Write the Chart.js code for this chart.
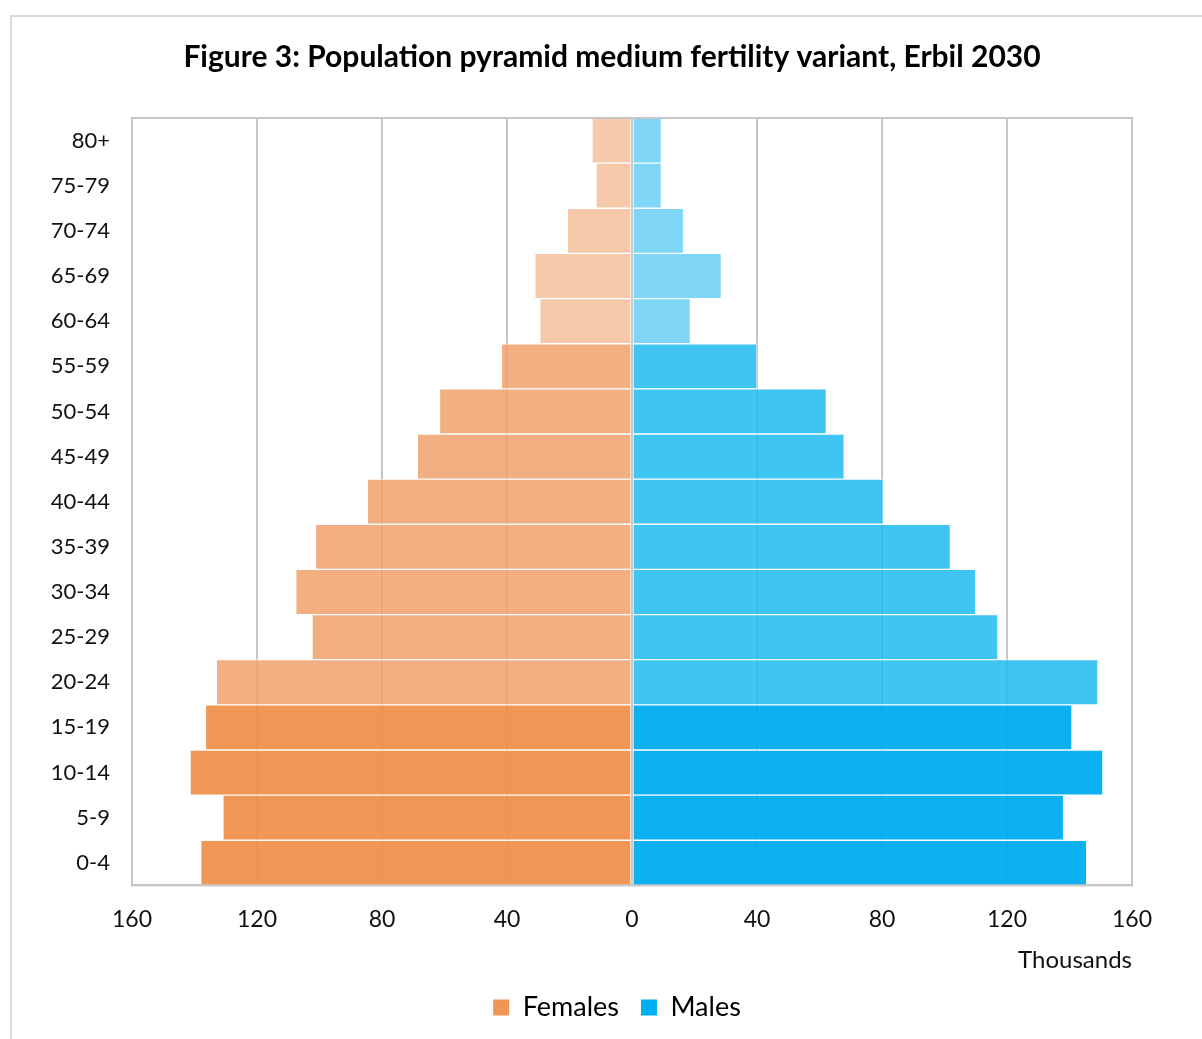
<!DOCTYPE html>
<html>
<head>
<meta charset="utf-8">
<script src="https://cdn.jsdelivr.net/npm/chart.js@4.4.1/dist/chart.umd.min.js"></script>
<style>
  body { margin: 0; background: #fff; overflow: hidden; }
  #frame { position: absolute; left: 10px; top: 15px; width: 1200px; height: 1040px; border: 2px solid #d9d9d9; }
  #chart { position: absolute; left: 0; top: 0; }
</style>
</head>
<body>
<div id="frame"></div>
<canvas id="chart" width="1202" height="1039"></canvas>
<script>
// data, top to bottom as drawn
const ageGroups = ["80+", "75-79", "70-74", "65-69", "60-64", "55-59", "50-54", "45-49",
  "40-44", "35-39", "30-34", "25-29", "20-24", "15-19", "10-14", "5-9", "0-4"];
const females = [12.8, 11.5, 20.7, 31.1, 29.5, 41.8, 61.6, 68.7,
  84.7, 101.3, 107.6, 102.4, 133.0, 136.5, 141.4, 130.9, 138.0];
const males = [9.4, 9.4, 16.5, 28.6, 18.7, 40.0, 62.2, 67.9,
  80.4, 101.9, 110.0, 117.1, 149.1, 140.8, 150.7, 138.1, 145.5];
const xTicks = [-160, -120, -80, -40, 0, 40, 80, 120, 160];
const chartTitle = "Figure 3: Population pyramid medium fertility variant, Erbil 2030";

// shade by age band: old, working age, young
function shade(i, light, mid, dark) {
  if (i <= 4) return light;
  if (i <= 12) return mid;
  return dark;
}
const femaleColors = ageGroups.map((a, i) =>
  shade(i, "rgba(244,191,155,0.85)", "rgba(240,162,108,0.85)", "rgba(239,145,76,0.95)"));
const maleColors = ageGroups.map((a, i) =>
  shade(i, "rgba(106,207,246,0.85)", "rgba(30,186,240,0.85)", "rgba(0,172,239,0.95)"));

const FONT = "Lato, 'Open Sans', sans-serif";
const GRID = "#c6c6c6";

// frame around the plot area, title, legend nudge (original is centred off-canvas-centre)
const plotFrame = {
  id: "plotFrame",
  afterLayout(chart) {
    chart.legend.left += 40;
    chart.legend.right += 40;
  },
  afterDatasetsDraw(chart) {
    const a = chart.chartArea;
    const ctx = chart.ctx;
    ctx.save();
    ctx.strokeStyle = GRID;
    ctx.lineWidth = 2;
    ctx.strokeRect(a.left, a.top, a.right - a.left, a.bottom - a.top);
    ctx.restore();
  },
  afterDraw(chart) {
    const ctx = chart.ctx;
    ctx.save();
    ctx.font = "bold 30px " + FONT;
    ctx.fillStyle = "#000";
    ctx.textAlign = "center";
    ctx.textBaseline = "middle";
    ctx.fillText(chartTitle, 612, 57);
    ctx.restore();
  }
};

new Chart(document.getElementById("chart"), {
  type: "bar",
  data: {
    labels: ageGroups,
    datasets: [
      {
        label: "Females",
        data: females.map(v => -v),
        backgroundColor: femaleColors,
        borderColor: "rgba(255,255,255,0.7)",
        borderWidth: 1,
        borderSkipped: false,
      },
      {
        label: "Males",
        data: males,
        backgroundColor: maleColors,
        borderColor: "rgba(255,255,255,0.7)",
        borderWidth: 1,
        borderSkipped: false,
      },
    ],
  },
  options: {
    indexAxis: "y",
    responsive: false,
    animation: false,
    barPercentage: 1,
    categoryPercentage: 1,
    layout: { padding: { left: 22, right: 70, top: 118, bottom: 8 } },
    scales: {
      x: {
        stacked: true,
        min: -160,
        max: 160,
        afterBuildTicks(scale) {
          scale.ticks = xTicks.map(v => ({ value: v }));
        },
        grid: { color: GRID, lineWidth: 2, drawTicks: false },
        border: { color: GRID, width: 2 },
        ticks: {
          color: "#111",
          font: { family: FONT, size: 23 },
          padding: 20,
          callback: v => Math.abs(v),
        },
        title: {
          display: true,
          text: "Thousands",
          align: "end",
          color: "#111",
          font: { family: FONT, size: 24, lineHeight: 1 },
          padding: { top: -5, bottom: 0 },
        },
      },
      y: {
        stacked: true,
        afterFit(scale) { scale.width = 110; },
        grid: { display: false, drawTicks: false },
        border: { display: false },
        ticks: {
          color: "#111",
          font: { family: FONT, size: 22 },
          padding: 22,
        },
      },
    },
    plugins: {
      title: { display: false },
      legend: {
        position: "bottom",
        labels: {
          color: "#111",
          font: { family: FONT, size: 27 },
          boxWidth: 16,
          boxHeight: 16,
          padding: 22,
          generateLabels(chart) {
            return chart.data.datasets.map((ds, i) => ({
              text: ds.label,
              fillStyle: i === 0 ? "#F09554" : "#00B0F0",
              strokeStyle: "transparent",
              lineWidth: 0,
              datasetIndex: i,
            }));
          },
        },
      },
      tooltip: { enabled: false },
    },
  },
  plugins: [plotFrame],
});
</script>
</body>
</html>
